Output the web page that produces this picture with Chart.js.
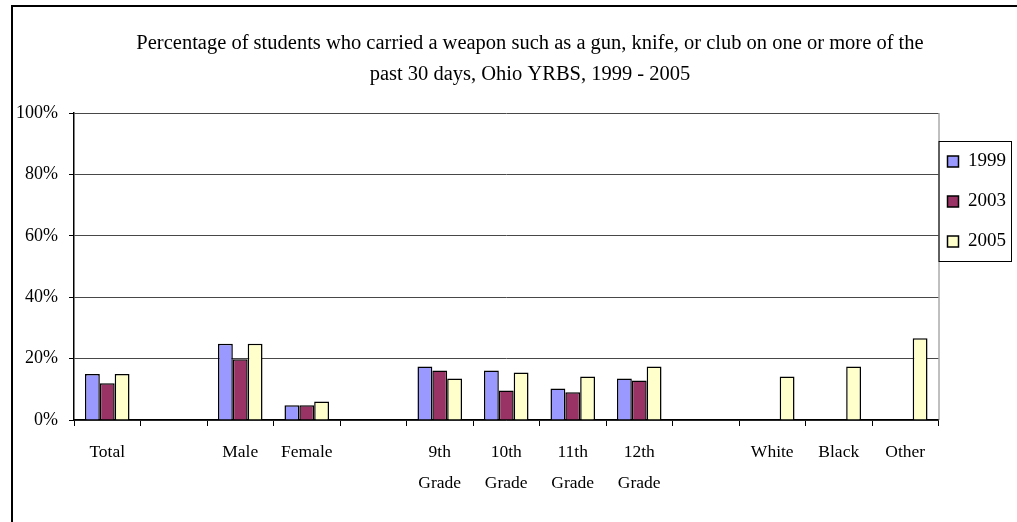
<!DOCTYPE html>
<html>
<head>
<meta charset="utf-8">
<script src="https://cdn.jsdelivr.net/npm/chart.js@4.4.1/dist/chart.umd.min.js"></script>
<style>
  body { margin: 0; background: #fff; }
  #wrap { width: 1017px; height: 522px; }
</style>
</head>
<body>
<div id="wrap"><canvas id="chart1"></canvas></div>
<script>
// categories (blank ones are the gaps between groups)
const categories = [
  'Total', '', 'Male', 'Female', '',
  ['9th', 'Grade'], ['10th', 'Grade'], ['11th', 'Grade'], ['12th', 'Grade'], '',
  'White', 'Black', 'Other'
];
const years = ['1999', '2003', '2005'];
const pct1999 = [15, null, 24.8, 4.8, null, 17.4, 16.1, 10.3, 13.5, null, null, null, null];
const pct2003 = [12, null, 19.8, 4.8, null, 16.1, 9.6, 9.0, 12.9, null, null, null, null];
const pct2005 = [15, null, 24.8, 6.0, null, 13.5, 15.5, 14.2, 17.4, null, 14.2, 17.4, 26.6];
const yStep = 20;

const serif = 'Liberation Serif, Times New Roman, serif';

// frame around the chart, right border of the plot, box around the legend
const extras = {
  id: 'extras',
  afterLayout(chart) {
    // title in the original is centred a bit right of the canvas centre
    chart.titleBlock.left = 44;
  },
  afterDraw(chart) {
    const ctx = chart.ctx;
    const a = chart.chartArea;
    ctx.save();
    ctx.strokeStyle = '#000';
    ctx.lineWidth = 2;
    ctx.beginPath();
    ctx.moveTo(12, 530);
    ctx.lineTo(12, 6);
    ctx.lineTo(1030, 6);
    ctx.stroke();

    ctx.strokeStyle = '#808080';
    ctx.lineWidth = 1;
    ctx.beginPath();
    ctx.moveTo(a.right + 0.5, a.top);
    ctx.lineTo(a.right + 0.5, a.bottom);
    ctx.stroke();

    const boxes = chart.legend.legendHitBoxes;
    if (boxes && boxes.length) {
      const first = boxes[0], last = boxes[boxes.length - 1];
      ctx.strokeStyle = '#000';
      ctx.lineWidth = 1;
      const top = Math.round(first.top - 11) + 0.5;
      const bottom = Math.round(last.top + 29) + 0.5;
      ctx.strokeRect(a.right + 0.5, top, 1011 - a.right, bottom - top);
    }
    ctx.restore();
  }
};

const barStyle = { borderColor: '#000', borderWidth: 1.5, borderSkipped: 'start' };

new Chart(document.getElementById('chart1').getContext('2d'), {
  type: 'bar',
  data: {
    labels: categories,
    datasets: [
      Object.assign({ label: years[0], data: pct1999, backgroundColor: '#9999FF' }, barStyle),
      Object.assign({ label: years[1], data: pct2003, backgroundColor: '#993366' }, barStyle),
      Object.assign({ label: years[2], data: pct2005, backgroundColor: '#FFFFCC' }, barStyle)
    ]
  },
  options: {
    responsive: true,
    maintainAspectRatio: false,
    animation: false,
    categoryPercentage: 0.67,
    barPercentage: 1.0,
    layout: { padding: { left: 12, right: 1, top: 0, bottom: 0 } },
    plugins: {
      title: {
        display: true,
        text: ['Percentage of students who carried a weapon such as a gun, knife, or club on one or more of the',
               'past 30 days, Ohio YRBS, 1999 - 2005'],
        color: '#000',
        font: { family: serif, size: 20.5, weight: 'normal', lineHeight: 31 / 20.5 },
        padding: { top: 28, bottom: 23 }
      },
      legend: {
        position: 'right',
        align: 'start',
        title: { display: true, text: ' ', font: { size: 1, lineHeight: 1 }, padding: { top: 142, bottom: 0 } },
        labels: {
          color: '#000',
          font: { family: serif, size: 19, lineHeight: 31 / 19 },
          boxWidth: 11,
          boxHeight: 11,
          padding: 9,
          generateLabels(chart) {
            // one-line array text so each row takes the full line height
            return Chart.defaults.plugins.legend.labels.generateLabels(chart)
              .map(item => Object.assign(item, { text: [item.text] }));
          }
        }
      },
      tooltip: { enabled: false }
    },
    scales: {
      x: {
        border: { color: '#000', width: 1.5 },
        grid: { offset: true, drawOnChartArea: false, tickLength: 6, color: '#000' },
        ticks: {
          color: '#000',
          maxRotation: 0,
          autoSkip: false,
          padding: 11,
          font: { family: serif, size: 17.5, lineHeight: 31 / 17.5 }
        },
        afterFit(scale) { scale.height = 102; }
      },
      y: {
        min: 0,
        max: 100,
        border: { color: '#000', width: 1.5 },
        grid: { color: '#484848', tickLength: 5, tickColor: '#000' },
        ticks: {
          color: '#000',
          padding: 11,
          stepSize: yStep,
          font: { family: serif, size: 18 },
          callback: v => v + '%'
        },
        afterFit(scale) { scale.width = 62; }
      }
    }
  },
  plugins: [extras]
});
</script>
</body>
</html>
